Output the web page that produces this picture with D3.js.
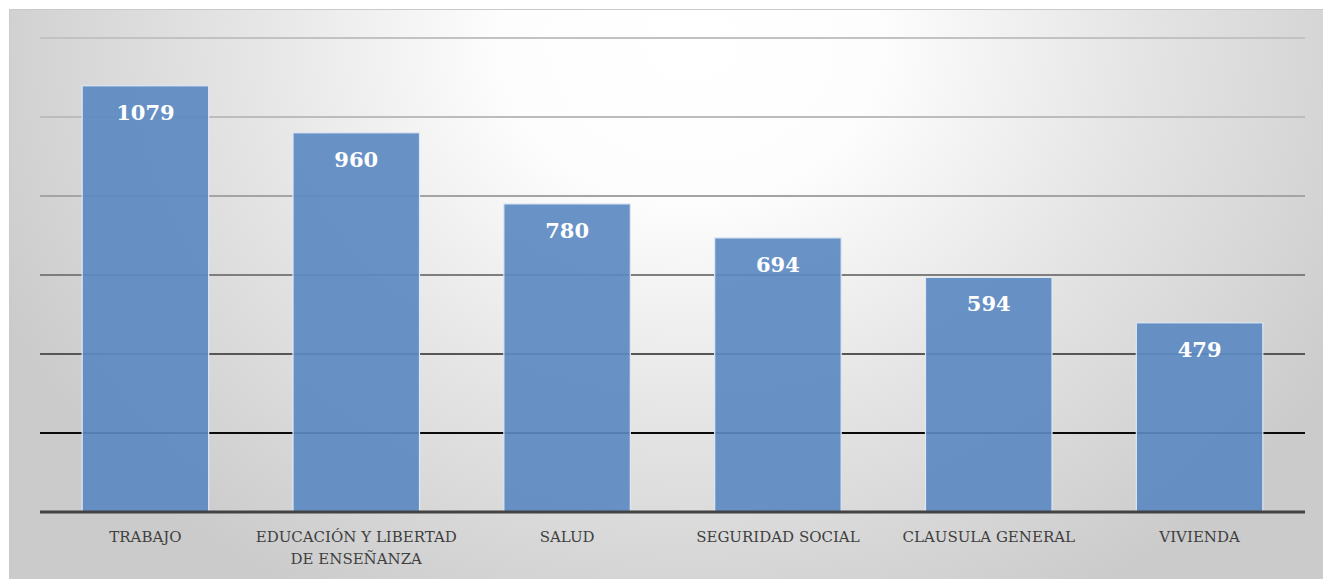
<!DOCTYPE html>
<html>
<head>
<meta charset="utf-8">
<script src="https://d3js.org/d3.v7.min.js"></script>
<style>
  body { margin: 0; background: #fff; }
  svg { display: block; }
</style>
</head>
<body>
<svg width="1323" height="579"></svg>
<script>

var categories = ["TRABAJO", "EDUCACIÓN Y LIBERTAD DE ENSEÑANZA", "SALUD", "SEGURIDAD SOCIAL", "CLAUSULA GENERAL", "VIVIENDA"];
var values = [1079, 960, 780, 694, 594, 479];
var yTicks = [200, 400, 600, 800, 1000, 1200];
var gridColors = ["#0a0a0a", "#565656", "#7e7e7e", "#a4a4a4", "#bcbcbc", "#c2c2c2"];

var svg = d3.select("svg"),
    width = +svg.attr("width"),
    height = +svg.attr("height");

var defs = svg.append("defs");
var bg = defs.append("radialGradient")
    .attr("id", "bg")
    .attr("gradientUnits", "userSpaceOnUse")
    .attr("cx", 690).attr("cy", 40)
    .attr("r", 760)
    .attr("gradientTransform", "translate(690,40) scale(1,0.85) translate(-690,-40)");
bg.append("stop").attr("offset", "0%").attr("stop-color", "#ffffff");
bg.append("stop").attr("offset", "25%").attr("stop-color", "#fdfdfd");
bg.append("stop").attr("offset", "60%").attr("stop-color", "#e4e4e4");
bg.append("stop").attr("offset", "100%").attr("stop-color", "#cbcbcb");

svg.append("rect")
    .attr("x", 9.5).attr("y", 9.5)
    .attr("width", width).attr("height", height)
    .attr("fill", "url(#bg)")
    .attr("stroke", "#cacaca");

var x = d3.scaleBand()
    .domain(categories)
    .range([40, 1305])
    .paddingInner(0.4)
    .paddingOuter(0.2);

var y = d3.scaleLinear()
    .domain([0, 1200])
    .range([512, 38]);

// gridlines
svg.append("g").selectAll("line")
  .data(yTicks)
  .enter().append("line")
    .attr("x1", 40).attr("x2", 1305)
    .attr("y1", function(d) { return y(d); })
    .attr("y2", function(d) { return y(d); })
    .attr("stroke", function(d, i) { return gridColors[i]; })
    .attr("stroke-width", 2);

// bars
svg.append("g").selectAll("rect")
  .data(values)
  .enter().append("rect")
    .attr("x", function(d, i) { return x(categories[i]); })
    .attr("y", function(d) { return y(d); })
    .attr("width", x.bandwidth())
    .attr("height", function(d) { return y(0) - y(d); })
    .attr("fill", "#5c8ac2")
    .attr("fill-opacity", 0.92)
    .attr("stroke", "#dfe7f2")
    .attr("stroke-width", 1.2);

// baseline
svg.append("line")
    .attr("x1", 40).attr("x2", 1305)
    .attr("y1", y(0)).attr("y2", y(0))
    .attr("stroke", "#434343")
    .attr("stroke-width", 3);

// value labels
svg.append("g").selectAll("text")
  .data(values)
  .enter().append("text")
    .attr("x", function(d, i) { return x(categories[i]) + x.bandwidth() / 2; })
    .attr("y", function(d) { return y(d) + 34; })
    .attr("text-anchor", "middle")
    .style("font-family", "'DejaVu Serif', serif")
    .style("font-weight", "bold")
    .style("font-size", "21px")
    .style("fill", "#ffffff")
    .text(function(d) { return d; });

// category labels
var xAxis = svg.append("g")
    .attr("transform", "translate(0," + y(0) + ")")
    .call(d3.axisBottom(x).tickSize(0).tickPadding(0));
xAxis.select(".domain").remove();
xAxis.selectAll("text")
    .attr("y", 30)
    .attr("dy", null)
    .style("font-family", "'DejaVu Serif', serif")
    .style("font-size", "15px")
    .style("fill", "#404040")
    .call(wrap, x.step() - 4);

function wrap(text, maxWidth) {
  text.each(function() {
    var t = d3.select(this),
        words = t.text().split(/\s+/),
        line = [],
        lineNo = 0,
        ty = t.attr("y"),
        tspan = t.text(null).append("tspan").attr("x", 0).attr("y", ty);
    words.forEach(function(w) {
      line.push(w);
      tspan.text(line.join(" "));
      if (tspan.node().getComputedTextLength() > maxWidth && line.length > 1) {
        line.pop();
        tspan.text(line.join(" "));
        line = [w];
        lineNo++;
        tspan = t.append("tspan").attr("x", 0).attr("y", +ty + lineNo * 22).text(w);
      }
    });
  });
}

</script>
</body>
</html>
